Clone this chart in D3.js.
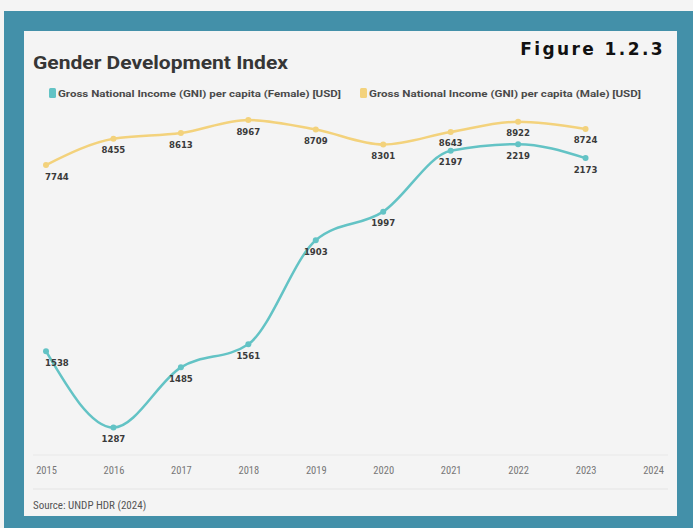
<!DOCTYPE html>
<html>
<head>
<meta charset="utf-8">
<script src="https://cdn.jsdelivr.net/npm/d3@7"></script>
<style>
  html, body { margin: 0; padding: 0; background: #f4f4f4; }
  svg { display: block; }
</style>
</head>
<body>
<svg id="chart" width="693" height="528"></svg>
<script>
// Gross National Income per capita by sex, 2015–2023
const years = [2015, 2016, 2017, 2018, 2019, 2020, 2021, 2022, 2023];
const axisYears = [2015, 2016, 2017, 2018, 2019, 2020, 2021, 2022, 2023, 2024];
const femaleGNI = [1538, 1287, 1485, 1561, 1903, 1997, 2197, 2219, 2173];
const maleGNI = [7744, 8455, 8613, 8967, 8709, 8301, 8643, 8922, 8724];
const seriesNames = [
  "Gross National Income (GNI) per capita (Female) [USD]",
  "Gross National Income (GNI) per capita (Male) [USD]"
];
const colors = ["#63c3c5", "#f3d27c"];

const svg = d3.select("#chart");

// backdrop and card
svg.append("rect").attr("x", 4).attr("y", 11).attr("width", 689).attr("height", 517).attr("fill", "#4390a9");
svg.append("rect").attr("x", 24).attr("y", 31).attr("width", 653).attr("height", 485).attr("fill", "#f4f4f4");

svg.append("text")
  .attr("x", 665).attr("y", 55)
  .attr("text-anchor", "end")
  .style("font-family", "'DejaVu Sans', sans-serif")
  .style("font-weight", "bold")
  .style("font-size", "17px")
  .style("letter-spacing", "2.4px")
  .attr("fill", "#111")
  .text("Figure 1.2.3");

svg.append("text")
  .attr("x", 33).attr("y", 69)
  .style("font-family", "Roboto, sans-serif")
  .style("font-weight", "bold")
  .style("font-size", "19px")
  .attr("textLength", 255)
  .attr("lengthAdjust", "spacingAndGlyphs")
  .attr("fill", "#363636")
  .text("Gender Development Index");

// legend
const legendX = [49, 360];
seriesNames.forEach((name, i) => {
  svg.append("rect")
    .attr("x", legendX[i]).attr("y", 88).attr("width", 7).attr("height", 10).attr("rx", 1.5)
    .attr("fill", colors[i]);
  svg.append("text")
    .attr("x", legendX[i] + 9).attr("y", 96.5)
    .style("font-family", "Roboto, sans-serif")
    .style("font-weight", "bold")
    .style("font-size", "9px")
    .attr("textLength", i === 0 ? 283 : 272)
    .attr("lengthAdjust", "spacingAndGlyphs")
    .attr("fill", "#4a4a4a")
    .text(name);
});

// scales: each series has its own hidden value axis
const x = d3.scalePoint().domain(axisYears).range([46, 653]);
const yFemale = d3.scaleLinear().domain([1200, 2300]).range([454, 119.5]);
const yMale = d3.scaleLinear().domain([7000, 9500]).range([192.4, 100.4]);

// grid / axis lines
svg.append("line").attr("x1", 33).attr("x2", 668).attr("y1", 455).attr("y2", 455)
  .attr("stroke", "#e8e8e8").attr("stroke-width", 1);
svg.append("line").attr("x1", 33).attr("x2", 668).attr("y1", 489).attr("y2", 489)
  .attr("stroke", "#e3e3e3").attr("stroke-width", 1.2);

const xAxis = svg.append("g")
  .attr("transform", "translate(0,455)")
  .call(d3.axisBottom(x).tickSize(0).tickPadding(12).tickFormat(d3.format("d")));
xAxis.select(".domain").remove();
xAxis.selectAll("text")
  .style("font-family", "'Roboto Condensed', 'DejaVu Sans Condensed', sans-serif")
  .style("font-size", "10.5px")
  .attr("fill", "#777");

function drawSeries(values, y, color) {
  const pts = values.map((v, i) => [x(years[i]), y(v)]);
  const line = d3.line().curve(d3.curveMonotoneX);
  svg.append("path")
    .attr("d", line(pts))
    .attr("fill", "none")
    .attr("stroke", color)
    .attr("stroke-width", 2.5)
    .attr("stroke-linecap", "round");
  svg.append("g").selectAll("circle").data(pts).join("circle")
    .attr("cx", d => d[0]).attr("cy", d => d[1]).attr("r", 3)
    .attr("fill", color);
  svg.append("g").selectAll("text").data(values).join("text")
    .attr("x", (v, i) => i === 0 ? x(years[i]) - 1 : x(years[i]))
    .attr("y", v => y(v) + 14.5)
    .attr("text-anchor", (v, i) => i === 0 ? "start" : "middle")
    .style("font-family", "'DejaVu Sans Condensed', sans-serif")
    .style("font-weight", "bold")
    .style("font-size", "9.5px")
    .attr("fill", "#3a3a3a")
    .text(v => v);
}

drawSeries(maleGNI, yMale, colors[1]);
drawSeries(femaleGNI, yFemale, colors[0]);

svg.append("text")
  .attr("x", 33).attr("y", 509)
  .style("font-family", "'Roboto Condensed', 'DejaVu Sans Condensed', sans-serif")
  .style("font-size", "11px")
  .attr("fill", "#555")
  .text("Source: UNDP HDR (2024)");
</script>
</body>
</html>
